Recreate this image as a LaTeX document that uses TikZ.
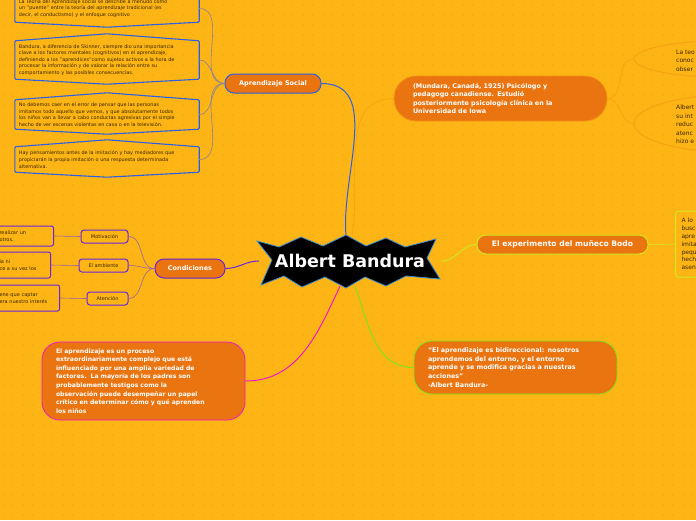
\documentclass[tikz,border=0pt]{standalone}
\usepackage{fontspec}
\setmainfont{DejaVu Sans}
\usepackage{tikz}
\usetikzlibrary{positioning,shapes.geometric}
\definecolor{mapBg}{HTML}{FDB515}
\definecolor{mapDot}{HTML}{F4A916}
\definecolor{mapOrange}{HTML}{EA7410}
\definecolor{mapInk}{HTML}{3A2600}
\definecolor{mapBlue}{HTML}{2A5FE6}
\definecolor{mapPurple}{HTML}{6A24E0}
\definecolor{mapMagenta}{HTML}{F218C8}
\definecolor{mapGreen}{HTML}{7EE41E}
\definecolor{mapLime}{HTML}{D2E81E}
\definecolor{mapAmber}{HTML}{F7A214}
\definecolor{mapStarEdge}{HTML}{3C8CD0}
\definecolor{mapTwig}{HTML}{8480A0}
\definecolor{mapPlum}{HTML}{9A62A8}

\begin{document}
\begin{tikzpicture}[x=1pt, y=-1pt,
    topic/.style={fill=mapOrange, draw=#1, line width=1pt,
                  rounded corners=9pt, minimum height=19pt, inner sep=0pt,
                  text=white, font=\fontsize{6.5}{7}\selectfont\bfseries},
    bigtopic/.style={fill=mapOrange, draw=#1, line width=0.8pt,
                     rounded corners=18pt, align=left, inner ysep=0pt,
                     text=white, font=\fontsize{6.1}{8.6}\selectfont\bfseries},
    note/.style={minimum width=184pt, text width=176pt, inner xsep=4pt,
                 inner ysep=0pt, align=left, text=mapInk,
                 font=\fontsize{4.9}{6.6}\selectfont},
    hexline/.style={draw=mapBlue, line width=1.1pt, rounded corners=1pt},
    leaf/.style={draw=mapPurple, fill=mapBg, line width=1pt, rounded corners=3pt,
                 minimum height=13pt, inner sep=0pt, text=mapInk,
                 font=\fontsize{5}{6}\selectfont},
    condnote/.style={draw=mapPurple, line width=1pt, rounded corners=2pt,
                     align=left, inner xsep=4pt, inner ysep=0pt, text=mapInk,
                     font=\fontsize{5}{7}\selectfont, anchor=east},
    peek/.style={align=left, inner sep=0pt, text=mapInk, anchor=west,
                 font=\fontsize{6}{8.4}\selectfont},
    branch/.style={line width=1pt},
    twig/.style={line width=0.6pt}
  ]
  \useasboundingbox (0,0) rectangle (696,520);
  \fill[mapBg] (0,0) rectangle (696,520);
  \foreach \x in {3,13,...,693} {
    \foreach \y in {5,15,...,515} {
      \fill[mapDot] (\x,\y) circle (0.9pt);
    }
  }

  % central topic
  \filldraw[fill=black, draw=mapStarEdge, line width=0.8pt]
    (257,241) -- (279,247) -- (301,237) -- (323,246) -- (346,235) -- (366,246)
    -- (386,238) -- (405,247) -- (436,239) -- (427,258) -- (440,279) -- (406,276)
    -- (386,286) -- (365,277) -- (346,288) -- (325,277) -- (302,287) -- (284,276)
    -- (261,285) -- (272,260) -- cycle;
  \node[minimum width=182pt, minimum height=50pt, inner sep=0pt, text=white,
        font=\fontsize{17.5}{19}\selectfont\bfseries] (hub) at (350,261) {Albert Bandura};

  % Aprendizaje Social
  \node[topic=mapBlue, minimum width=96pt] (social) at (273,83.5) {Aprendizaje Social};
  \node[note, minimum height=27pt] (t1) at (107,8.5)
    {La Teoría del Aprendizaje social se describe a menudo como\\
     un "puente" entre la teoría del aprendizaje tradicional (es\\
     decir, el conductismo) y el enfoque cognitivo};
  \node[note, minimum height=38pt] (t2) at (107,60)
    {Bandura, a diferencia de Skinner, siempre dio una importancia\\
     clave a los factores mentales (cognitivos) en el aprendizaje,\\
     definiendo a los "aprendices"como sujetos activos a la hora de\\
     procesar la información y de valorar la relación entre su\\
     comportamiento y las posibles consecuencias.};
  \node[note, minimum height=29pt] (t3) at (107,114.5)
    {No debemos caer en el error de pensar que las personas\\
     imitamos todo aquello que vemos, y que absolutamente todos\\
     los niños van a llevar a cabo conductas agresivas por el simple\\
     hecho de ver escenas violentas en casa o en la televisión.};
  \node[note, minimum height=25pt] (t4) at (107,159.5)
    {Hay pensamientos antes de la imitación y hay mediadores que\\
     propiciarán la propia imitación o una respuesta determinada\\
     alternativa.};
  \foreach \n in {t1,t2,t3,t4} {
    \draw[hexline] (\n.north west) -- ([yshift=7pt]\n.north) -- (\n.north east)
      -- (\n.south east) -- ([yshift=-5pt]\n.south) -- (\n.south west) -- cycle;
    \draw[twig, mapTwig] (\n.east) to[out=0, in=180] (social.west);
  }
  \draw[branch, mapBlue] (social.east) to[out=0, in=95] ([xshift=-4pt]hub.north);

  % Condiciones
  \node[topic=mapPurple, minimum width=70pt] (cond) at (190,268.5) {Condiciones};
  \node[leaf, minimum width=47pt] (motiv) at (104.5,236.5) {Motivación};
  \node[leaf, minimum width=49pt] (amb) at (103.5,265.5) {El ambiente};
  \node[leaf, minimum width=41pt] (aten) at (107.5,298.5) {Atención};
  \node[condnote, text width=50pt, minimum height=20pt] (c1) at (54,236) {realizar un\\otros.};
  \node[condnote, text width=47pt, minimum height=26pt] (c2) at (51,265) {ia ni\\ce a su vez los};
  \node[condnote, text width=56pt, minimum height=26pt] (c3) at (60,298) {ene que captar\\era nuestro interés};
  \foreach \a/\b in {motiv/c1, amb/c2, aten/c3} {
    \draw[twig, mapPlum] (cond.west) to[out=180, in=0] (\a.east);
    \draw[twig, mapPlum] (\a.west) -- (\b.east);
  }
  \draw[branch, mapPurple] (hub.west) to[out=180, in=0] (cond.east);

  % magenta topic
  \node[bigtopic=mapMagenta, text width=175pt, inner xsep=14pt, minimum height=78pt]
    (proc) at (143.5,381)
    {El aprendizaje es un proceso\\
     extraordinariamente complejo que está\\
     influenciado por una amplia variedad de\\
     factores.\ \ La mayoría de los padres son\\
     probablemente testigos como la\\
     observación puede desempeñar un papel\\
     crítico en determinar cómo y qué aprenden\\
     los niños};
  \draw[branch, mapMagenta] ([xshift=-10pt]hub.south) to[out=-115, in=0] (proc.east);

  % green topic
  \node[bigtopic=mapGreen, text width=175pt, inner xsep=14pt, minimum height=53pt,
        font=\fontsize{6.4}{8.6}\selectfont\bfseries]
    (quote) at (515.5,367.5)
    {“El aprendizaje es bidireccional: nosotros\\
     aprendemos del entorno, y el entorno\\
     aprende y se modifica gracias a nuestras\\
     acciones”\\
     -Albert Bandura-};
  \draw[branch, mapGreen] ([xshift=5pt]hub.south) to[out=-70, in=180] (quote.west);

  % Bodo
  \node[topic=mapLime, minimum width=171pt, font=\fontsize{7.6}{8}\selectfont\bfseries]
    (bodo) at (562.5,244.5) {El experimento del muñeco Bodo};
  \node[draw=mapLime, line width=1pt, rounded corners=3pt, peek, text width=50pt,
        inner xsep=6pt, minimum height=66pt, font=\fontsize{6}{7.8}\selectfont]
    (bodotxt) at (675,244) {A lo\\busc\\apre\\imita\\pequ\\hech\\asen};
  \draw[branch, mapLime] (hub.east) to[out=0, in=180] (bodo.west);
  \draw[twig, mapLime] (bodo.east) -- (bodotxt.west);

  % biography
  \node[bigtopic=mapAmber!70!mapOrange, rounded corners=22pt, text width=175pt,
        inner xsep=19pt, minimum height=45pt, font=\fontsize{6.4}{8.3}\selectfont\bfseries]
    (bio) at (500.5,98.5)
    {(Mundara, Canadá, 1925) Psicólogo y\\
     pedagogo canadiense. Estudió\\
     posteriormente psicología clínica en la\\
     Universidad de Iowa};
  \draw[twig, mapAmber] ([xshift=2pt]hub.north) to[out=80, in=180] (bio.west);
  \node[ellipse, draw=mapAmber, line width=1pt, minimum width=202pt,
        minimum height=38pt] (e1) at (735,59) {};
  \node[ellipse, draw=mapAmber, line width=1pt, minimum width=202pt,
        minimum height=58pt] (e2) at (735,123.5) {};
  \node[peek] (e1txt) at (676,60.5) {La teo\\conoc\\obser};
  \node[peek] (e2txt) at (676,124.5) {Albert\\su int\\reduc\\atenc\\hizo e};
  \draw[twig, mapAmber] (bio.east) to[out=0, in=180] (e1.west);
  \draw[twig, mapAmber] (bio.east) to[out=0, in=180] (e2.west);
\end{tikzpicture}
\end{document}
